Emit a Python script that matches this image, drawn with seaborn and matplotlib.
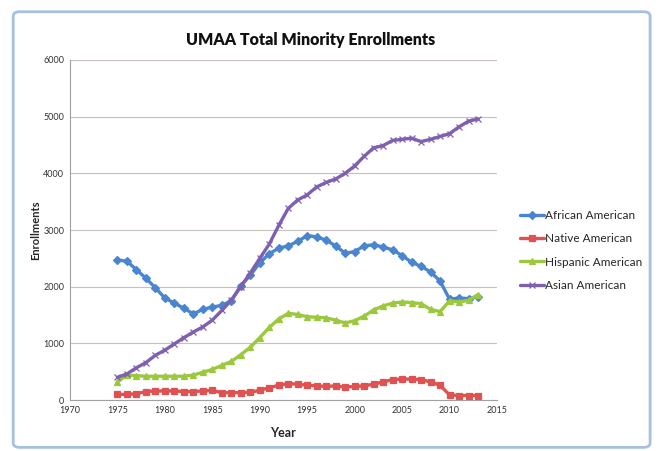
import pandas as pd
import seaborn as sns
import matplotlib.pyplot as plt
from matplotlib.patches import FancyBboxPatch

years = list(range(1975, 2014))
african = [2470, 2450, 2300, 2150, 1980, 1800, 1710, 1620, 1520, 1600,
           1640, 1670, 1750, 2020, 2200, 2420, 2580, 2680, 2720, 2800,
           2900, 2880, 2820, 2720, 2590, 2620, 2720, 2740, 2700, 2650,
           2550, 2430, 2360, 2260, 2100, 1780, 1800, 1790, 1820]
native = [100, 100, 110, 150, 160, 160, 160, 150, 150, 160,
          170, 130, 130, 130, 140, 170, 220, 260, 290, 280,
          260, 250, 240, 250, 230, 240, 250, 280, 320, 360,
          370, 370, 360, 320, 260, 90, 80, 80, 80]
hispanic = [320, 440, 430, 420, 420, 420, 420, 420, 440, 490,
            540, 610, 680, 800, 930, 1100, 1280, 1430, 1530, 1510,
            1470, 1460, 1450, 1410, 1360, 1400, 1480, 1590, 1660, 1710,
            1730, 1720, 1700, 1600, 1560, 1750, 1730, 1760, 1860]
asian = [400, 460, 570, 660, 790, 880, 990, 1100, 1200, 1290,
         1410, 1580, 1760, 2000, 2240, 2500, 2750, 3080, 3380, 3530,
         3620, 3760, 3840, 3900, 4000, 4130, 4300, 4450, 4490, 4580,
         4600, 4620, 4560, 4600, 4650, 4700, 4820, 4920, 4960]

groups = ['African American', 'Native American', 'Hispanic American', 'Asian American']
series = [african, native, hispanic, asian]
colors = ['#4A86CF', '#E05252', '#9BC83C', '#7F5FB0']
markers = ['D', 's', '^', 'x']
msizes = [4, 5, 5, 4]

sns.set_style('white')
plt.rcParams['font.family'] = ['Lato', 'DejaVu Sans']

fig = plt.figure(figsize=(6.6, 4.51), dpi=100)
ax = fig.add_axes([0.106, 0.113, 0.647, 0.754])

for name, vals, c, m, ms in zip(groups, series, colors, markers, msizes):
    d = pd.DataFrame({'Year': years, 'Enrollments': vals})
    sns.lineplot(data=d, x='Year', y='Enrollments', color=c, marker=m,
                 markersize=ms, markeredgecolor=c, markeredgewidth=0.9,
                 linewidth=2.4, label=name, ax=ax)

ax.set_xlim(1970, 2015)
ax.set_ylim(0, 6000)
ax.set_xticks(range(1970, 2016, 5))
ax.set_yticks(range(0, 6001, 1000))
ax.tick_params(labelsize=6.5, length=0, pad=4, labelcolor='#333333')
ax.yaxis.grid(True, color='#c8c0c0', linewidth=0.8)
ax.set_axisbelow(True)
for s in ['top', 'right']:
    ax.spines[s].set_visible(False)
for s in ['left', 'bottom']:
    ax.spines[s].set_color('#a0a0a0')
    ax.spines[s].set_linewidth(0.8)

ax.set_xlabel('Year', fontsize=9, fontweight='bold', labelpad=9)
ax.set_ylabel('Enrollments', fontsize=8, fontweight='bold', labelpad=2)
fig.suptitle('UMAA Total Minority Enrollments', x=0.47, y=0.93,
             fontsize=11.5, fontweight='heavy', color='#111111')

ax.legend(loc='center left', bbox_to_anchor=(1.03, 0.44), frameon=False,
          fontsize=8.5, handlelength=2.0, handletextpad=0.1, labelspacing=1.05)

frame = FancyBboxPatch((0.02, 0.008), 0.965, 0.966, boxstyle='round,pad=0,rounding_size=0.01',
                       transform=fig.transFigure, fill=False,
                       edgecolor='#a8c0e0', linewidth=2)
fig.patches.append(frame)

fig.savefig('out.png', dpi=100)
